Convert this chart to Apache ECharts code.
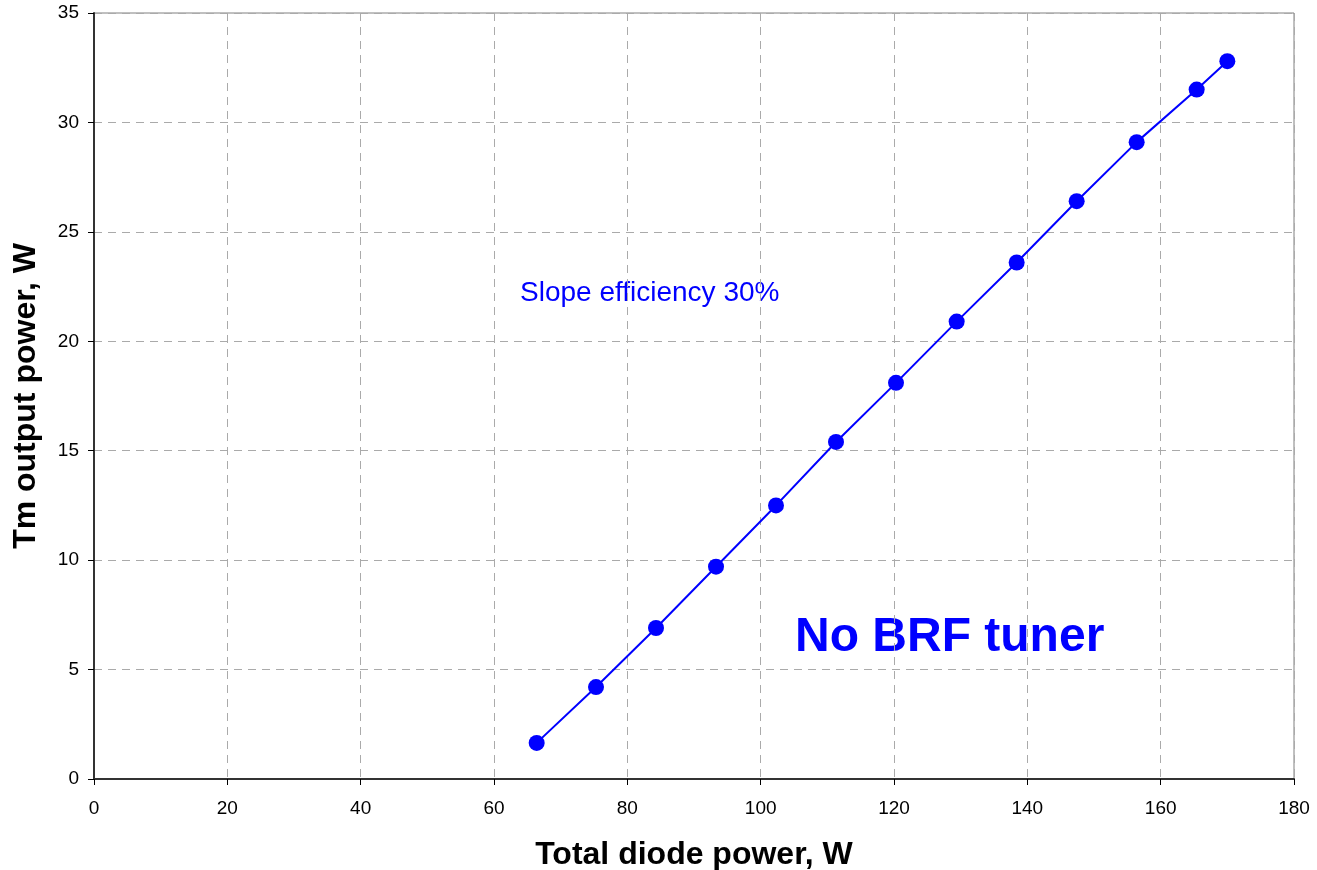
<!DOCTYPE html>
<html>
<head>
<meta charset="utf-8">
<script src="https://cdn.jsdelivr.net/npm/echarts@6/dist/echarts.min.js"></script>
<style>
  html, body { margin: 0; padding: 0; background: #fff; }
  #chart { width: 1317px; height: 870px; }
</style>
</head>
<body>
<div id="chart"></div>
<script>
// total diode power (W) and Tm output power (W)
const diodePower = [66.4, 75.3, 84.3, 93.3, 102.3, 111.3, 120.3, 129.4, 138.4, 147.4, 156.4, 165.4, 170.0];
const outputPower = [1.65, 4.2, 6.9, 9.7, 12.5, 15.4, 18.1, 20.9, 23.6, 26.4, 29.1, 31.5, 32.8];

const xTitle = 'Total diode power, W';
const yTitle = 'Tm output power, W';
const slopeNote = 'Slope efficiency 30%';
const caption = 'No BRF tuner';

const font = 'Arial, "Liberation Sans", sans-serif';

const chart = echarts.init(document.getElementById('chart'));

const option = {
    animation: false,
    backgroundColor: '#fff',
    grid: {
        left: 94, right: 23, top: 13, bottom: 91,
        outerBoundsMode: 'none',
        containLabel: false,
        show: true,
        borderColor: '#808080',
        borderWidth: 1
    },
    xAxis: {
        type: 'value',
        min: 0, max: 180, interval: 20,
        name: xTitle,
        nameLocation: 'middle',
        nameGap: 60,
        nameTextStyle: { fontFamily: font, fontSize: 32, fontWeight: 'bold', color: '#000' },
        axisLine: { onZero: false, lineStyle: { color: '#333', width: 2 } },
        axisTick: { show: true, length: 6, lineStyle: { color: '#000' } },
        axisLabel: { fontFamily: font, fontSize: 19, color: '#000', margin: 20 },
        splitLine: { show: true, lineStyle: { color: '#aaa', type: [8, 6] } }
    },
    yAxis: {
        type: 'value',
        min: 0, max: 35, interval: 5,
        name: yTitle,
        nameLocation: 'middle',
        nameGap: 52,
        nameTextStyle: { fontFamily: font, fontSize: 32, fontWeight: 'bold', color: '#000' },
        axisLine: { onZero: false, lineStyle: { color: '#333', width: 2 } },
        axisTick: { show: true, length: 6, lineStyle: { color: '#000' } },
        axisLabel: { fontFamily: font, fontSize: 19, color: '#000', margin: 15 },
        splitLine: { show: true, lineStyle: { color: '#aaa', type: [8, 6] } }
    },
    series: [{
        type: 'line',
        data: diodePower.map((x, i) => [x, outputPower[i]]),
        symbol: 'circle',
        symbolSize: 16,
        lineStyle: { color: '#0000ff', width: 2 },
        itemStyle: { color: '#0000ff' }
    }],
    graphic: [
        {
            type: 'text',
            style: { x: 520, y: 293, text: slopeNote, fontFamily: font, fontSize: 28, fill: '#0000ff', verticalAlign: 'middle' }
        },
        {
            type: 'text',
            style: { x: 795, y: 638, text: caption, fontFamily: font, fontSize: 48, fontWeight: 'bold', fill: '#0000ff', verticalAlign: 'middle' }
        }
    ]
};

chart.setOption(option);
</script>
</body>
</html>
